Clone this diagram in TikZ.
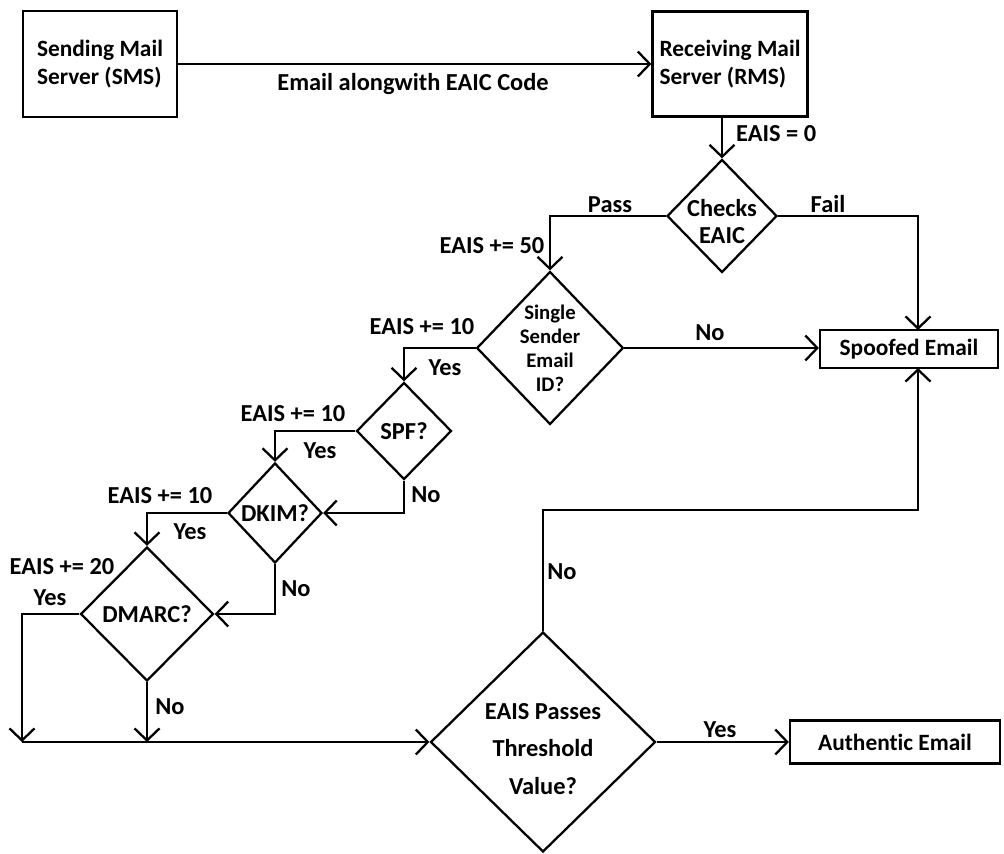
\documentclass[tikz,border=0pt]{standalone}
\usepackage{fontspec}
\setmainfont{Carlito}[Ligatures=NoCommon]
\usetikzlibrary{shapes.geometric,arrows.meta}
\begin{document}
\begin{tikzpicture}[x=0.02cm,y=-0.02cm,
    every node/.style={font=\bfseries\fontsize{13.9}{15.5}\selectfont},
    process/.style={draw,line width=1.3pt,align=left,inner sep=0pt,font=\bfseries\fontsize{13.3}{15.5}\selectfont},
    decision/.style={draw,diamond,line width=1.3pt,align=center,inner sep=0pt},
    arr/.style={line width=1.3pt,-{Straight Barb[length=2.4mm,width=5mm,line width=1.3pt]}}]
    \useasboundingbox (0,0) rectangle (1004,854);
    % Mail servers
    \node[process,minimum width=3.08cm,minimum height=2.12cm] (sms) at (100,64) {Sending Mail\\Server (SMS)};
    \node[process,minimum width=3.1cm,minimum height=2.1cm] (rms) at (730,64) {Receiving Mail\\Server (RMS)};
    % Checks
    \node[decision,minimum width=2.2cm,minimum height=2.26cm,label={[yshift=-3pt,align=center]center:Checks\\EAIC}] (checks) at (722,216) {};
    \node[decision,minimum width=2.6cm,minimum height=3.06cm,font=\bfseries\fontsize{11.8}{13.6}\selectfont] (single) at (550,348) {Single\\Sender\\Email\\ID?};
    \node[decision,minimum width=1.9cm,minimum height=1.94cm] (spf) at (404,431) {SPF?};
    \node[decision,minimum width=1.88cm,minimum height=2cm] (dkim) at (275,513) {DKIM?};
    \node[decision,minimum width=2.66cm,minimum height=2.68cm] (dmarc) at (147,614) {DMARC?};
    \node[decision,minimum width=4.5cm,minimum height=4.4cm,label={[yshift=-4pt,align=center,font=\bfseries\fontsize{13.9}{21.5}\selectfont]center:EAIS Passes\\Threshold\\Value?}] (thresh) at (543,742) {};
    % Results
    \node[process,minimum width=3.56cm,minimum height=0.76cm] (spoofed) at (909,349) {Spoofed Email};
    \node[process,minimum width=4.2cm,minimum height=0.86cm] (auth) at (895,742) {Authentic Email};
    \coordinate (failin) at (918,330);
    \coordinate (noin) at (918,368);
    \coordinate (yesend) at (22,742);
    % Connectors
    \draw[arr] (sms.east) -- (rms.west);
    \draw[arr] (rms.south -| checks.north) -- (checks.north);
    \draw[arr] (checks.west) -| (single.north);
    \draw[arr] (checks.east) -| (failin);
    \draw[arr] (single.east) -- (single.east -| spoofed.west);
    \draw[arr] (single.west) -| (spf.north);
    \draw[arr] (spf.west) -| (dkim.north);
    \draw[arr] (spf.south) |- (dkim.east);
    \draw[arr] (dkim.west) -| (dmarc.north);
    \draw[arr] (dkim.south) |- (dmarc.east);
    \draw[arr] (dmarc.west) -| (yesend);
    \draw[arr] (dmarc.south) -- (dmarc.south |- yesend);
    \draw[arr] (yesend) -- (thresh.west);
    \draw[arr] (thresh.east) -- (auth.west);
    \draw[arr] (thresh.north) -- (543,510) -| (noin);
    % Labels
    \node (lblcode) at (413,84) {Email alongwith EAIC Code};
    \node[right] (lblzero) at (730,134) {EAIS = 0};
    \node (lblpass) at (610,205) {Pass};
    \node (lblfail) at (828,204) {Fail};
    \node (lblfifty) at (492,246) {EAIS += 50};
    \node (lblno1) at (710,333) {No};
    \node (lblten1) at (422,327) {EAIS += 10};
    \node (lblyes1) at (445,368) {Yes};
    \node (lblten2) at (293,414) {EAIS += 10};
    \node (lblyes2) at (320,451) {Yes};
    \node (lblno2) at (426,495) {No};
    \node (lblten3) at (160,496) {EAIS += 10};
    \node (lblyes3) at (190,532) {Yes};
    \node (lblno3) at (296,589) {No};
    \node (lbltwenty) at (62,567) {EAIS += 20};
    \node (lblyes4) at (50,598) {Yes};
    \node (lblno4) at (170,707) {No};
    \node (lblno5) at (562,572) {No};
    \node (lblyes5) at (720,730) {Yes};
\end{tikzpicture}
\end{document}
